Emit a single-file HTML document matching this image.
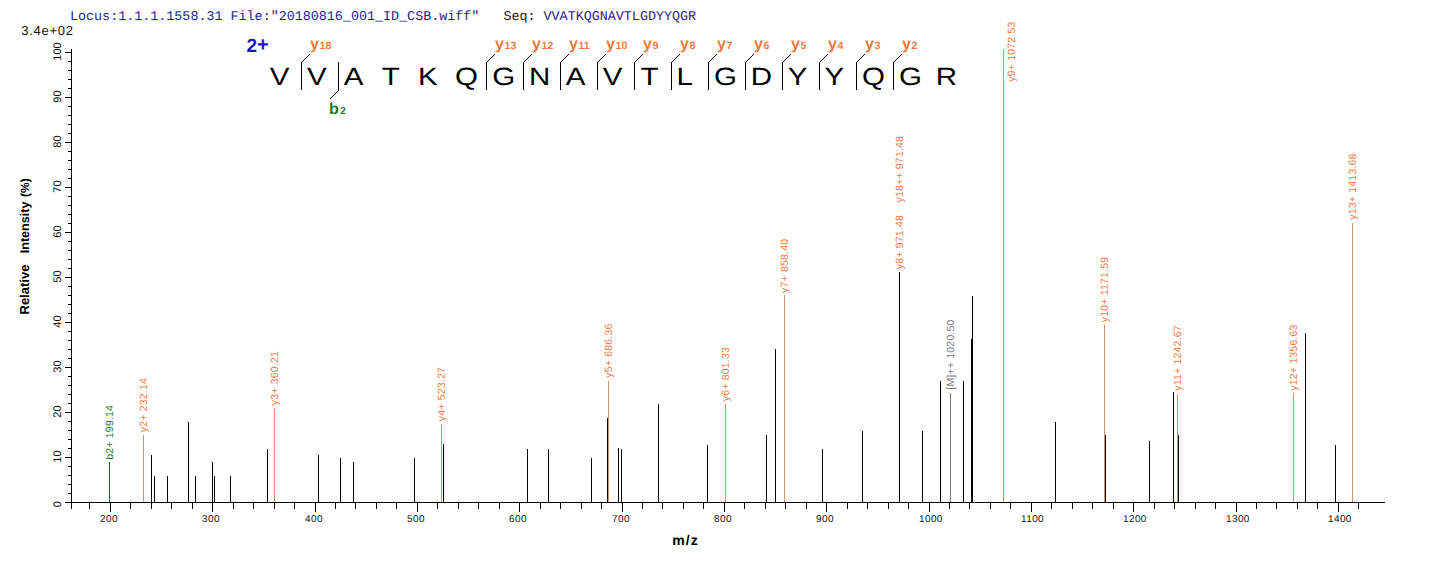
<!DOCTYPE html>
<html><head><meta charset="utf-8"><style>
html,body{margin:0;padding:0;background:#fff;}
svg{display:block;}
</style></head><body>
<svg width="1436" height="562" viewBox="0 0 1436 562" text-rendering="geometricPrecision">
<rect width="1436" height="562" fill="#fff"/>
<text x="70" y="20" font-family="Liberation Mono, monospace" font-size="13.38" fill="#25258F" xml:space="preserve">Locus:1.1.1.1558.31 File:"20180816_001_ID_CSB.wiff"   <tspan fill="#1a1a1a">Seq: </tspan>VVATKQGNAVTLGDYYQGR</text>
<text x="21.3" y="34.6" font-family="Liberation Sans, sans-serif" font-size="13" letter-spacing="0.72" fill="#111">3.4e+02</text>
<rect x="71" y="49" width="1" height="460" fill="#000"/>
<rect x="65" y="502" width="6" height="1" fill="#000"/>
<rect x="68" y="493" width="3" height="1" fill="#000"/>
<rect x="68" y="484" width="3" height="1" fill="#000"/>
<rect x="68" y="475" width="3" height="1" fill="#000"/>
<rect x="68" y="466" width="3" height="1" fill="#000"/>
<rect x="65" y="457" width="6" height="1" fill="#000"/>
<rect x="68" y="448" width="3" height="1" fill="#000"/>
<rect x="68" y="439" width="3" height="1" fill="#000"/>
<rect x="68" y="430" width="3" height="1" fill="#000"/>
<rect x="68" y="421" width="3" height="1" fill="#000"/>
<rect x="65" y="412" width="6" height="1" fill="#000"/>
<rect x="68" y="403" width="3" height="1" fill="#000"/>
<rect x="68" y="394" width="3" height="1" fill="#000"/>
<rect x="68" y="385" width="3" height="1" fill="#000"/>
<rect x="68" y="376" width="3" height="1" fill="#000"/>
<rect x="65" y="367" width="6" height="1" fill="#000"/>
<rect x="68" y="358" width="3" height="1" fill="#000"/>
<rect x="68" y="349" width="3" height="1" fill="#000"/>
<rect x="68" y="340" width="3" height="1" fill="#000"/>
<rect x="68" y="331" width="3" height="1" fill="#000"/>
<rect x="65" y="322" width="6" height="1" fill="#000"/>
<rect x="68" y="313" width="3" height="1" fill="#000"/>
<rect x="68" y="304" width="3" height="1" fill="#000"/>
<rect x="68" y="295" width="3" height="1" fill="#000"/>
<rect x="68" y="286" width="3" height="1" fill="#000"/>
<rect x="65" y="277" width="6" height="1" fill="#000"/>
<rect x="68" y="268" width="3" height="1" fill="#000"/>
<rect x="68" y="259" width="3" height="1" fill="#000"/>
<rect x="68" y="250" width="3" height="1" fill="#000"/>
<rect x="68" y="241" width="3" height="1" fill="#000"/>
<rect x="65" y="232" width="6" height="1" fill="#000"/>
<rect x="68" y="223" width="3" height="1" fill="#000"/>
<rect x="68" y="214" width="3" height="1" fill="#000"/>
<rect x="68" y="205" width="3" height="1" fill="#000"/>
<rect x="68" y="196" width="3" height="1" fill="#000"/>
<rect x="65" y="187" width="6" height="1" fill="#000"/>
<rect x="68" y="178" width="3" height="1" fill="#000"/>
<rect x="68" y="169" width="3" height="1" fill="#000"/>
<rect x="68" y="160" width="3" height="1" fill="#000"/>
<rect x="68" y="151" width="3" height="1" fill="#000"/>
<rect x="65" y="142" width="6" height="1" fill="#000"/>
<rect x="68" y="133" width="3" height="1" fill="#000"/>
<rect x="68" y="124" width="3" height="1" fill="#000"/>
<rect x="68" y="115" width="3" height="1" fill="#000"/>
<rect x="68" y="106" width="3" height="1" fill="#000"/>
<rect x="65" y="97" width="6" height="1" fill="#000"/>
<rect x="68" y="88" width="3" height="1" fill="#000"/>
<rect x="68" y="79" width="3" height="1" fill="#000"/>
<rect x="68" y="70" width="3" height="1" fill="#000"/>
<rect x="68" y="61" width="3" height="1" fill="#000"/>
<rect x="65" y="52" width="6" height="1" fill="#000"/>
<text transform="translate(61,504.3) rotate(-90)" font-family="Liberation Sans, sans-serif" font-size="11" fill="#111" text-anchor="middle">0</text>
<text transform="translate(61,456.5) rotate(-90)" font-family="Liberation Sans, sans-serif" font-size="11" fill="#111" text-anchor="middle">10</text>
<text transform="translate(61,411.5) rotate(-90)" font-family="Liberation Sans, sans-serif" font-size="11" fill="#111" text-anchor="middle">20</text>
<text transform="translate(61,366.5) rotate(-90)" font-family="Liberation Sans, sans-serif" font-size="11" fill="#111" text-anchor="middle">30</text>
<text transform="translate(61,321.5) rotate(-90)" font-family="Liberation Sans, sans-serif" font-size="11" fill="#111" text-anchor="middle">40</text>
<text transform="translate(61,276.5) rotate(-90)" font-family="Liberation Sans, sans-serif" font-size="11" fill="#111" text-anchor="middle">50</text>
<text transform="translate(61,231.5) rotate(-90)" font-family="Liberation Sans, sans-serif" font-size="11" fill="#111" text-anchor="middle">60</text>
<text transform="translate(61,186.5) rotate(-90)" font-family="Liberation Sans, sans-serif" font-size="11" fill="#111" text-anchor="middle">70</text>
<text transform="translate(61,141.5) rotate(-90)" font-family="Liberation Sans, sans-serif" font-size="11" fill="#111" text-anchor="middle">80</text>
<text transform="translate(61,96.5) rotate(-90)" font-family="Liberation Sans, sans-serif" font-size="11" fill="#111" text-anchor="middle">90</text>
<text transform="translate(61,51.5) rotate(-90)" font-family="Liberation Sans, sans-serif" font-size="11" fill="#111" text-anchor="middle">100</text>
<text transform="translate(28.5,314.5) rotate(-90)" font-family="Liberation Sans, sans-serif" font-size="13" font-weight="bold" fill="#000" xml:space="preserve">Relative</text>
<text transform="translate(28.5,253.3) rotate(-90)" font-family="Liberation Sans, sans-serif" font-size="12.6" font-weight="bold" fill="#000" xml:space="preserve">Intensity <tspan font-size="12" dx="1">(%)</tspan></text>
<rect x="65" y="502" width="1320" height="1" fill="#000"/>
<rect x="71" y="503" width="1" height="6" fill="#000"/>
<rect x="89" y="503" width="1" height="6" fill="#000"/>
<rect x="110" y="503" width="1" height="9" fill="#000"/>
<text x="100.1" y="522" font-family="Liberation Sans, sans-serif" font-size="10" letter-spacing="0.35" fill="#111">200</text>
<rect x="130" y="503" width="1" height="6" fill="#000"/>
<rect x="151" y="503" width="1" height="6" fill="#000"/>
<rect x="171" y="503" width="1" height="6" fill="#000"/>
<rect x="192" y="503" width="1" height="6" fill="#000"/>
<rect x="212" y="503" width="1" height="9" fill="#000"/>
<text x="202.1" y="522" font-family="Liberation Sans, sans-serif" font-size="10" letter-spacing="0.35" fill="#111">300</text>
<rect x="233" y="503" width="1" height="6" fill="#000"/>
<rect x="253" y="503" width="1" height="6" fill="#000"/>
<rect x="274" y="503" width="1" height="6" fill="#000"/>
<rect x="294" y="503" width="1" height="6" fill="#000"/>
<rect x="315" y="503" width="1" height="9" fill="#000"/>
<text x="305.1" y="522" font-family="Liberation Sans, sans-serif" font-size="10" letter-spacing="0.35" fill="#111">400</text>
<rect x="335" y="503" width="1" height="6" fill="#000"/>
<rect x="355" y="503" width="1" height="6" fill="#000"/>
<rect x="376" y="503" width="1" height="6" fill="#000"/>
<rect x="396" y="503" width="1" height="6" fill="#000"/>
<rect x="417" y="503" width="1" height="9" fill="#000"/>
<text x="407.1" y="522" font-family="Liberation Sans, sans-serif" font-size="10" letter-spacing="0.35" fill="#111">500</text>
<rect x="437" y="503" width="1" height="6" fill="#000"/>
<rect x="458" y="503" width="1" height="6" fill="#000"/>
<rect x="478" y="503" width="1" height="6" fill="#000"/>
<rect x="499" y="503" width="1" height="6" fill="#000"/>
<rect x="519" y="503" width="1" height="9" fill="#000"/>
<text x="509.1" y="522" font-family="Liberation Sans, sans-serif" font-size="10" letter-spacing="0.35" fill="#111">600</text>
<rect x="540" y="503" width="1" height="6" fill="#000"/>
<rect x="560" y="503" width="1" height="6" fill="#000"/>
<rect x="581" y="503" width="1" height="6" fill="#000"/>
<rect x="601" y="503" width="1" height="6" fill="#000"/>
<rect x="622" y="503" width="1" height="9" fill="#000"/>
<text x="612.1" y="522" font-family="Liberation Sans, sans-serif" font-size="10" letter-spacing="0.35" fill="#111">700</text>
<rect x="642" y="503" width="1" height="6" fill="#000"/>
<rect x="662" y="503" width="1" height="6" fill="#000"/>
<rect x="683" y="503" width="1" height="6" fill="#000"/>
<rect x="703" y="503" width="1" height="6" fill="#000"/>
<rect x="724" y="503" width="1" height="9" fill="#000"/>
<text x="714.1" y="522" font-family="Liberation Sans, sans-serif" font-size="10" letter-spacing="0.35" fill="#111">800</text>
<rect x="744" y="503" width="1" height="6" fill="#000"/>
<rect x="765" y="503" width="1" height="6" fill="#000"/>
<rect x="785" y="503" width="1" height="6" fill="#000"/>
<rect x="806" y="503" width="1" height="6" fill="#000"/>
<rect x="826" y="503" width="1" height="9" fill="#000"/>
<text x="816.1" y="522" font-family="Liberation Sans, sans-serif" font-size="10" letter-spacing="0.35" fill="#111">900</text>
<rect x="847" y="503" width="1" height="6" fill="#000"/>
<rect x="867" y="503" width="1" height="6" fill="#000"/>
<rect x="888" y="503" width="1" height="6" fill="#000"/>
<rect x="908" y="503" width="1" height="6" fill="#000"/>
<rect x="929" y="503" width="1" height="9" fill="#000"/>
<text x="919.1" y="522" font-family="Liberation Sans, sans-serif" font-size="10" letter-spacing="0.35" fill="#111">1000</text>
<rect x="949" y="503" width="1" height="6" fill="#000"/>
<rect x="969" y="503" width="1" height="6" fill="#000"/>
<rect x="990" y="503" width="1" height="6" fill="#000"/>
<rect x="1010" y="503" width="1" height="6" fill="#000"/>
<rect x="1031" y="503" width="1" height="9" fill="#000"/>
<text x="1021.1" y="522" font-family="Liberation Sans, sans-serif" font-size="10" letter-spacing="0.35" fill="#111">1100</text>
<rect x="1051" y="503" width="1" height="6" fill="#000"/>
<rect x="1072" y="503" width="1" height="6" fill="#000"/>
<rect x="1092" y="503" width="1" height="6" fill="#000"/>
<rect x="1113" y="503" width="1" height="6" fill="#000"/>
<rect x="1133" y="503" width="1" height="9" fill="#000"/>
<text x="1123.1" y="522" font-family="Liberation Sans, sans-serif" font-size="10" letter-spacing="0.35" fill="#111">1200</text>
<rect x="1154" y="503" width="1" height="6" fill="#000"/>
<rect x="1174" y="503" width="1" height="6" fill="#000"/>
<rect x="1195" y="503" width="1" height="6" fill="#000"/>
<rect x="1215" y="503" width="1" height="6" fill="#000"/>
<rect x="1236" y="503" width="1" height="9" fill="#000"/>
<text x="1226.1" y="522" font-family="Liberation Sans, sans-serif" font-size="10" letter-spacing="0.35" fill="#111">1300</text>
<rect x="1256" y="503" width="1" height="6" fill="#000"/>
<rect x="1276" y="503" width="1" height="6" fill="#000"/>
<rect x="1297" y="503" width="1" height="6" fill="#000"/>
<rect x="1317" y="503" width="1" height="6" fill="#000"/>
<rect x="1338" y="503" width="1" height="9" fill="#000"/>
<text x="1328.1" y="522" font-family="Liberation Sans, sans-serif" font-size="10" letter-spacing="0.35" fill="#111">1400</text>
<rect x="1358" y="503" width="1" height="6" fill="#000"/>
<text x="672.3" y="545" font-family="Liberation Sans, sans-serif" font-size="14" letter-spacing="1.1" font-weight="bold" fill="#000">m/z</text>
<rect x="143" y="435" width="1" height="67" fill="#CE9174"/>
<rect x="274" y="408" width="1" height="94" fill="#CE9174"/>
<rect x="441" y="424" width="1" height="78" fill="#CE9174"/>
<rect x="608" y="381" width="1" height="121" fill="#CE9174"/>
<rect x="725" y="404" width="1" height="98" fill="#CE9174"/>
<rect x="784" y="295" width="1" height="207" fill="#CE9174"/>
<rect x="1003" y="49" width="1" height="453" fill="#CE9174"/>
<rect x="1104" y="325" width="1" height="177" fill="#CE9174"/>
<rect x="1177" y="394" width="1" height="108" fill="#CE9174"/>
<rect x="1293" y="393" width="1" height="109" fill="#CE9174"/>
<rect x="1352" y="223" width="1" height="279" fill="#CE9174"/>
<rect x="109" y="462" width="1" height="40" fill="#2A6A2A"/>
<rect x="950" y="393" width="1" height="109" fill="#808080"/>
<rect x="151" y="455" width="1" height="47" fill="#000"/>
<rect x="154" y="476" width="1" height="26" fill="#000"/>
<rect x="167" y="476" width="1" height="26" fill="#000"/>
<rect x="188" y="422" width="1" height="80" fill="#000"/>
<rect x="195" y="476" width="1" height="26" fill="#000"/>
<rect x="212" y="462" width="1" height="40" fill="#000"/>
<rect x="214" y="476" width="1" height="26" fill="#000"/>
<rect x="230" y="476" width="1" height="26" fill="#000"/>
<rect x="267" y="449" width="1" height="53" fill="#000"/>
<rect x="318" y="455" width="1" height="47" fill="#000"/>
<rect x="340" y="458" width="1" height="44" fill="#000"/>
<rect x="353" y="462" width="1" height="40" fill="#000"/>
<rect x="414" y="458" width="1" height="44" fill="#000"/>
<rect x="443" y="444" width="1" height="58" fill="#000"/>
<rect x="527" y="449" width="1" height="53" fill="#000"/>
<rect x="548" y="449" width="1" height="53" fill="#000"/>
<rect x="591" y="458" width="1" height="44" fill="#000"/>
<rect x="618" y="448" width="1" height="54" fill="#000"/>
<rect x="621" y="449" width="1" height="53" fill="#000"/>
<rect x="658" y="404" width="1" height="98" fill="#000"/>
<rect x="707" y="445" width="1" height="57" fill="#000"/>
<rect x="766" y="435" width="1" height="67" fill="#000"/>
<rect x="775" y="349" width="1" height="153" fill="#000"/>
<rect x="822" y="449" width="1" height="53" fill="#000"/>
<rect x="862" y="431" width="1" height="71" fill="#000"/>
<rect x="922" y="431" width="1" height="71" fill="#000"/>
<rect x="940" y="381" width="1" height="121" fill="#000"/>
<rect x="963" y="381" width="1" height="121" fill="#000"/>
<rect x="971" y="339" width="1" height="163" fill="#000"/>
<rect x="972" y="296" width="1" height="206" fill="#000"/>
<rect x="1055" y="422" width="1" height="80" fill="#000"/>
<rect x="1149" y="441" width="1" height="61" fill="#000"/>
<rect x="1173" y="392" width="1" height="110" fill="#000"/>
<rect x="1178" y="435" width="1" height="67" fill="#000"/>
<rect x="1305" y="333" width="1" height="169" fill="#000"/>
<rect x="1335" y="445" width="1" height="57" fill="#000"/>
<rect x="607" y="418" width="1" height="84" fill="#000"/>
<rect x="899" y="272" width="1" height="230" fill="#000"/>
<rect x="1105" y="435" width="1" height="67" fill="#000"/>
<text transform="translate(113.3,459.7) rotate(-90)" font-family="Liberation Sans, sans-serif" font-size="10.5" letter-spacing="0.2" fill="#1A7A1A" xml:space="preserve">b2+ 199.14</text>
<text transform="translate(147.3,432.2) rotate(-90)" font-family="Liberation Sans, sans-serif" font-size="10.5" letter-spacing="0.2" fill="#F07A3E" xml:space="preserve">y2+ 232.14</text>
<text transform="translate(278.3,405.2) rotate(-90)" font-family="Liberation Sans, sans-serif" font-size="10.5" letter-spacing="0.2" fill="#F07A3E" xml:space="preserve">y3+ 360.21</text>
<text transform="translate(445.3,421.2) rotate(-90)" font-family="Liberation Sans, sans-serif" font-size="10.5" letter-spacing="0.2" fill="#F07A3E" xml:space="preserve">y4+ 523.27</text>
<text transform="translate(612.3,377.7) rotate(-90)" font-family="Liberation Sans, sans-serif" font-size="10.5" letter-spacing="0.2" fill="#F07A3E" xml:space="preserve">y5+ 686.36</text>
<text transform="translate(729.3,401.2) rotate(-90)" font-family="Liberation Sans, sans-serif" font-size="10.5" letter-spacing="0.2" fill="#F07A3E" xml:space="preserve">y6+ 801.33</text>
<text transform="translate(788.3,293.0) rotate(-90)" font-family="Liberation Sans, sans-serif" font-size="10.5" letter-spacing="0.2" fill="#F07A3E" xml:space="preserve">y7+ 858.40</text>
<text transform="translate(903.3,269.2) rotate(-90)" font-family="Liberation Sans, sans-serif" font-size="10.5" letter-spacing="0.2" fill="#F07A3E" xml:space="preserve">y8+ 971.48    y18++ 971.48</text>
<text transform="translate(954.3,389.7) rotate(-90)" font-family="Liberation Sans, sans-serif" font-size="10.5" letter-spacing="0.2" fill="#808080" xml:space="preserve">[M]++ 1020.50</text>
<text transform="translate(1014.8,81.7) rotate(-90)" font-family="Liberation Sans, sans-serif" font-size="10.5" letter-spacing="0.2" fill="#F07A3E" xml:space="preserve">y9+ 1072.53</text>
<text transform="translate(1108.3,322.2) rotate(-90)" font-family="Liberation Sans, sans-serif" font-size="10.5" letter-spacing="0.2" fill="#F07A3E" xml:space="preserve">y10+ 1171.59</text>
<text transform="translate(1181.3,390.7) rotate(-90)" font-family="Liberation Sans, sans-serif" font-size="10.5" letter-spacing="0.2" fill="#F07A3E" xml:space="preserve">y11+ 1242.67</text>
<text transform="translate(1297.3,390.7) rotate(-90)" font-family="Liberation Sans, sans-serif" font-size="10.5" letter-spacing="0.2" fill="#F07A3E" xml:space="preserve">y12+ 1356.63</text>
<text transform="translate(1356.3,219.7) rotate(-90)" font-family="Liberation Sans, sans-serif" font-size="10.5" letter-spacing="0.2" fill="#F07A3E" xml:space="preserve">y13+ 1413.68</text>
<text x="246.5" y="52" font-family="Liberation Sans, sans-serif" font-size="19" font-weight="bold" fill="#1414D2">2<tspan font-size="20" dy="-1">+</tspan></text>
<text transform="translate(279.65,85) scale(1.18,1)" font-family="Liberation Sans, sans-serif" font-size="25" fill="#000" text-anchor="middle">V</text>
<text transform="translate(316.8,85) scale(1.18,1)" font-family="Liberation Sans, sans-serif" font-size="25" fill="#000" text-anchor="middle">V</text>
<text transform="translate(353.65,85) scale(1.18,1)" font-family="Liberation Sans, sans-serif" font-size="25" fill="#000" text-anchor="middle">A</text>
<text transform="translate(390.8,85) scale(1.18,1)" font-family="Liberation Sans, sans-serif" font-size="25" fill="#000" text-anchor="middle">T</text>
<text transform="translate(427.9,85) scale(1.18,1)" font-family="Liberation Sans, sans-serif" font-size="25" fill="#000" text-anchor="middle">K</text>
<text transform="translate(466.5,85) scale(1.18,1)" font-family="Liberation Sans, sans-serif" font-size="25" fill="#000" text-anchor="middle">Q</text>
<text transform="translate(503.65,85) scale(1.18,1)" font-family="Liberation Sans, sans-serif" font-size="25" fill="#000" text-anchor="middle">G</text>
<text transform="translate(539.65,85) scale(1.18,1)" font-family="Liberation Sans, sans-serif" font-size="25" fill="#000" text-anchor="middle">N</text>
<text transform="translate(575.55,85) scale(1.18,1)" font-family="Liberation Sans, sans-serif" font-size="25" fill="#000" text-anchor="middle">A</text>
<text transform="translate(612.6,85) scale(1.18,1)" font-family="Liberation Sans, sans-serif" font-size="25" fill="#000" text-anchor="middle">V</text>
<text transform="translate(649.4,85) scale(1.18,1)" font-family="Liberation Sans, sans-serif" font-size="25" fill="#000" text-anchor="middle">T</text>
<text transform="translate(684.6,85) scale(1.18,1)" font-family="Liberation Sans, sans-serif" font-size="25" fill="#000" text-anchor="middle">L</text>
<text transform="translate(725.55,85) scale(1.18,1)" font-family="Liberation Sans, sans-serif" font-size="25" fill="#000" text-anchor="middle">G</text>
<text transform="translate(761.5,85) scale(1.18,1)" font-family="Liberation Sans, sans-serif" font-size="25" fill="#000" text-anchor="middle">D</text>
<text transform="translate(797.6,85) scale(1.18,1)" font-family="Liberation Sans, sans-serif" font-size="25" fill="#000" text-anchor="middle">Y</text>
<text transform="translate(834.45,85) scale(1.18,1)" font-family="Liberation Sans, sans-serif" font-size="25" fill="#000" text-anchor="middle">Y</text>
<text transform="translate(873.45,85) scale(1.18,1)" font-family="Liberation Sans, sans-serif" font-size="25" fill="#000" text-anchor="middle">Q</text>
<text transform="translate(910.35,85) scale(1.18,1)" font-family="Liberation Sans, sans-serif" font-size="25" fill="#000" text-anchor="middle">G</text>
<text transform="translate(946.5,85) scale(1.18,1)" font-family="Liberation Sans, sans-serif" font-size="25" fill="#000" text-anchor="middle">R</text>
<rect x="301" y="62" width="1" height="28" fill="#000"/>
<rect x="302" y="61" width="1" height="1" fill="#000"/>
<rect x="303" y="60" width="1" height="1" fill="#000"/>
<rect x="304" y="59" width="1" height="1" fill="#000"/>
<rect x="305" y="58" width="1" height="1" fill="#000"/>
<rect x="306" y="57" width="1" height="1" fill="#000"/>
<rect x="307" y="56" width="1" height="1" fill="#000"/>
<rect x="308" y="55" width="1" height="1" fill="#000"/>
<rect x="309" y="54" width="1" height="1" fill="#000"/>
<text x="310" y="49" font-family="Liberation Sans, sans-serif" font-weight="bold" fill="#F07A3E"><tspan font-size="16">y</tspan><tspan font-size="10.6" dx="0.6">18</tspan></text>
<rect x="486" y="62" width="1" height="28" fill="#000"/>
<rect x="487" y="61" width="1" height="1" fill="#000"/>
<rect x="488" y="60" width="1" height="1" fill="#000"/>
<rect x="489" y="59" width="1" height="1" fill="#000"/>
<rect x="490" y="58" width="1" height="1" fill="#000"/>
<rect x="491" y="57" width="1" height="1" fill="#000"/>
<rect x="492" y="56" width="1" height="1" fill="#000"/>
<rect x="493" y="55" width="1" height="1" fill="#000"/>
<rect x="494" y="54" width="1" height="1" fill="#000"/>
<text x="495" y="49" font-family="Liberation Sans, sans-serif" font-weight="bold" fill="#F07A3E"><tspan font-size="16">y</tspan><tspan font-size="10.6" dx="0.6">13</tspan></text>
<rect x="523" y="62" width="1" height="28" fill="#000"/>
<rect x="524" y="61" width="1" height="1" fill="#000"/>
<rect x="525" y="60" width="1" height="1" fill="#000"/>
<rect x="526" y="59" width="1" height="1" fill="#000"/>
<rect x="527" y="58" width="1" height="1" fill="#000"/>
<rect x="528" y="57" width="1" height="1" fill="#000"/>
<rect x="529" y="56" width="1" height="1" fill="#000"/>
<rect x="530" y="55" width="1" height="1" fill="#000"/>
<rect x="531" y="54" width="1" height="1" fill="#000"/>
<text x="532" y="49" font-family="Liberation Sans, sans-serif" font-weight="bold" fill="#F07A3E"><tspan font-size="16">y</tspan><tspan font-size="10.6" dx="0.6">12</tspan></text>
<rect x="560" y="62" width="1" height="28" fill="#000"/>
<rect x="561" y="61" width="1" height="1" fill="#000"/>
<rect x="562" y="60" width="1" height="1" fill="#000"/>
<rect x="563" y="59" width="1" height="1" fill="#000"/>
<rect x="564" y="58" width="1" height="1" fill="#000"/>
<rect x="565" y="57" width="1" height="1" fill="#000"/>
<rect x="566" y="56" width="1" height="1" fill="#000"/>
<rect x="567" y="55" width="1" height="1" fill="#000"/>
<rect x="568" y="54" width="1" height="1" fill="#000"/>
<text x="569" y="49" font-family="Liberation Sans, sans-serif" font-weight="bold" fill="#F07A3E"><tspan font-size="16">y</tspan><tspan font-size="10.6" dx="0.6">11</tspan></text>
<rect x="597" y="62" width="1" height="28" fill="#000"/>
<rect x="598" y="61" width="1" height="1" fill="#000"/>
<rect x="599" y="60" width="1" height="1" fill="#000"/>
<rect x="600" y="59" width="1" height="1" fill="#000"/>
<rect x="601" y="58" width="1" height="1" fill="#000"/>
<rect x="602" y="57" width="1" height="1" fill="#000"/>
<rect x="603" y="56" width="1" height="1" fill="#000"/>
<rect x="604" y="55" width="1" height="1" fill="#000"/>
<rect x="605" y="54" width="1" height="1" fill="#000"/>
<text x="606" y="49" font-family="Liberation Sans, sans-serif" font-weight="bold" fill="#F07A3E"><tspan font-size="16">y</tspan><tspan font-size="10.6" dx="0.6">10</tspan></text>
<rect x="634" y="62" width="1" height="28" fill="#000"/>
<rect x="635" y="61" width="1" height="1" fill="#000"/>
<rect x="636" y="60" width="1" height="1" fill="#000"/>
<rect x="637" y="59" width="1" height="1" fill="#000"/>
<rect x="638" y="58" width="1" height="1" fill="#000"/>
<rect x="639" y="57" width="1" height="1" fill="#000"/>
<rect x="640" y="56" width="1" height="1" fill="#000"/>
<rect x="641" y="55" width="1" height="1" fill="#000"/>
<rect x="642" y="54" width="1" height="1" fill="#000"/>
<text x="643" y="49" font-family="Liberation Sans, sans-serif" font-weight="bold" fill="#F07A3E"><tspan font-size="16">y</tspan><tspan font-size="10.6" dx="0.6">9</tspan></text>
<rect x="671" y="62" width="1" height="28" fill="#000"/>
<rect x="672" y="61" width="1" height="1" fill="#000"/>
<rect x="673" y="60" width="1" height="1" fill="#000"/>
<rect x="674" y="59" width="1" height="1" fill="#000"/>
<rect x="675" y="58" width="1" height="1" fill="#000"/>
<rect x="676" y="57" width="1" height="1" fill="#000"/>
<rect x="677" y="56" width="1" height="1" fill="#000"/>
<rect x="678" y="55" width="1" height="1" fill="#000"/>
<rect x="679" y="54" width="1" height="1" fill="#000"/>
<text x="680" y="49" font-family="Liberation Sans, sans-serif" font-weight="bold" fill="#F07A3E"><tspan font-size="16">y</tspan><tspan font-size="10.6" dx="0.6">8</tspan></text>
<rect x="708" y="62" width="1" height="28" fill="#000"/>
<rect x="709" y="61" width="1" height="1" fill="#000"/>
<rect x="710" y="60" width="1" height="1" fill="#000"/>
<rect x="711" y="59" width="1" height="1" fill="#000"/>
<rect x="712" y="58" width="1" height="1" fill="#000"/>
<rect x="713" y="57" width="1" height="1" fill="#000"/>
<rect x="714" y="56" width="1" height="1" fill="#000"/>
<rect x="715" y="55" width="1" height="1" fill="#000"/>
<rect x="716" y="54" width="1" height="1" fill="#000"/>
<text x="717" y="49" font-family="Liberation Sans, sans-serif" font-weight="bold" fill="#F07A3E"><tspan font-size="16">y</tspan><tspan font-size="10.6" dx="0.6">7</tspan></text>
<rect x="745" y="62" width="1" height="28" fill="#000"/>
<rect x="746" y="61" width="1" height="1" fill="#000"/>
<rect x="747" y="60" width="1" height="1" fill="#000"/>
<rect x="748" y="59" width="1" height="1" fill="#000"/>
<rect x="749" y="58" width="1" height="1" fill="#000"/>
<rect x="750" y="57" width="1" height="1" fill="#000"/>
<rect x="751" y="56" width="1" height="1" fill="#000"/>
<rect x="752" y="55" width="1" height="1" fill="#000"/>
<rect x="753" y="54" width="1" height="1" fill="#000"/>
<text x="754" y="49" font-family="Liberation Sans, sans-serif" font-weight="bold" fill="#F07A3E"><tspan font-size="16">y</tspan><tspan font-size="10.6" dx="0.6">6</tspan></text>
<rect x="782" y="62" width="1" height="28" fill="#000"/>
<rect x="783" y="61" width="1" height="1" fill="#000"/>
<rect x="784" y="60" width="1" height="1" fill="#000"/>
<rect x="785" y="59" width="1" height="1" fill="#000"/>
<rect x="786" y="58" width="1" height="1" fill="#000"/>
<rect x="787" y="57" width="1" height="1" fill="#000"/>
<rect x="788" y="56" width="1" height="1" fill="#000"/>
<rect x="789" y="55" width="1" height="1" fill="#000"/>
<rect x="790" y="54" width="1" height="1" fill="#000"/>
<text x="791" y="49" font-family="Liberation Sans, sans-serif" font-weight="bold" fill="#F07A3E"><tspan font-size="16">y</tspan><tspan font-size="10.6" dx="0.6">5</tspan></text>
<rect x="819" y="62" width="1" height="28" fill="#000"/>
<rect x="820" y="61" width="1" height="1" fill="#000"/>
<rect x="821" y="60" width="1" height="1" fill="#000"/>
<rect x="822" y="59" width="1" height="1" fill="#000"/>
<rect x="823" y="58" width="1" height="1" fill="#000"/>
<rect x="824" y="57" width="1" height="1" fill="#000"/>
<rect x="825" y="56" width="1" height="1" fill="#000"/>
<rect x="826" y="55" width="1" height="1" fill="#000"/>
<rect x="827" y="54" width="1" height="1" fill="#000"/>
<text x="828" y="49" font-family="Liberation Sans, sans-serif" font-weight="bold" fill="#F07A3E"><tspan font-size="16">y</tspan><tspan font-size="10.6" dx="0.6">4</tspan></text>
<rect x="856" y="62" width="1" height="28" fill="#000"/>
<rect x="857" y="61" width="1" height="1" fill="#000"/>
<rect x="858" y="60" width="1" height="1" fill="#000"/>
<rect x="859" y="59" width="1" height="1" fill="#000"/>
<rect x="860" y="58" width="1" height="1" fill="#000"/>
<rect x="861" y="57" width="1" height="1" fill="#000"/>
<rect x="862" y="56" width="1" height="1" fill="#000"/>
<rect x="863" y="55" width="1" height="1" fill="#000"/>
<rect x="864" y="54" width="1" height="1" fill="#000"/>
<text x="865" y="49" font-family="Liberation Sans, sans-serif" font-weight="bold" fill="#F07A3E"><tspan font-size="16">y</tspan><tspan font-size="10.6" dx="0.6">3</tspan></text>
<rect x="893" y="62" width="1" height="28" fill="#000"/>
<rect x="894" y="61" width="1" height="1" fill="#000"/>
<rect x="895" y="60" width="1" height="1" fill="#000"/>
<rect x="896" y="59" width="1" height="1" fill="#000"/>
<rect x="897" y="58" width="1" height="1" fill="#000"/>
<rect x="898" y="57" width="1" height="1" fill="#000"/>
<rect x="899" y="56" width="1" height="1" fill="#000"/>
<rect x="900" y="55" width="1" height="1" fill="#000"/>
<rect x="901" y="54" width="1" height="1" fill="#000"/>
<text x="902" y="49" font-family="Liberation Sans, sans-serif" font-weight="bold" fill="#F07A3E"><tspan font-size="16">y</tspan><tspan font-size="10.6" dx="0.6">2</tspan></text>
<rect x="338" y="62" width="1" height="29" fill="#000"/>
<rect x="337" y="91" width="1" height="1" fill="#000"/>
<rect x="336" y="92" width="1" height="1" fill="#000"/>
<rect x="335" y="93" width="1" height="1" fill="#000"/>
<rect x="334" y="94" width="1" height="1" fill="#000"/>
<rect x="333" y="95" width="1" height="1" fill="#000"/>
<rect x="332" y="96" width="1" height="1" fill="#000"/>
<rect x="331" y="97" width="1" height="1" fill="#000"/>
<rect x="330" y="98" width="1" height="1" fill="#000"/>
<text x="329" y="114" font-family="Liberation Sans, sans-serif" font-weight="bold" fill="#1A7A1A"><tspan font-size="16">b</tspan><tspan font-size="10" dx="1.5">2</tspan></text>
</svg></body></html>
